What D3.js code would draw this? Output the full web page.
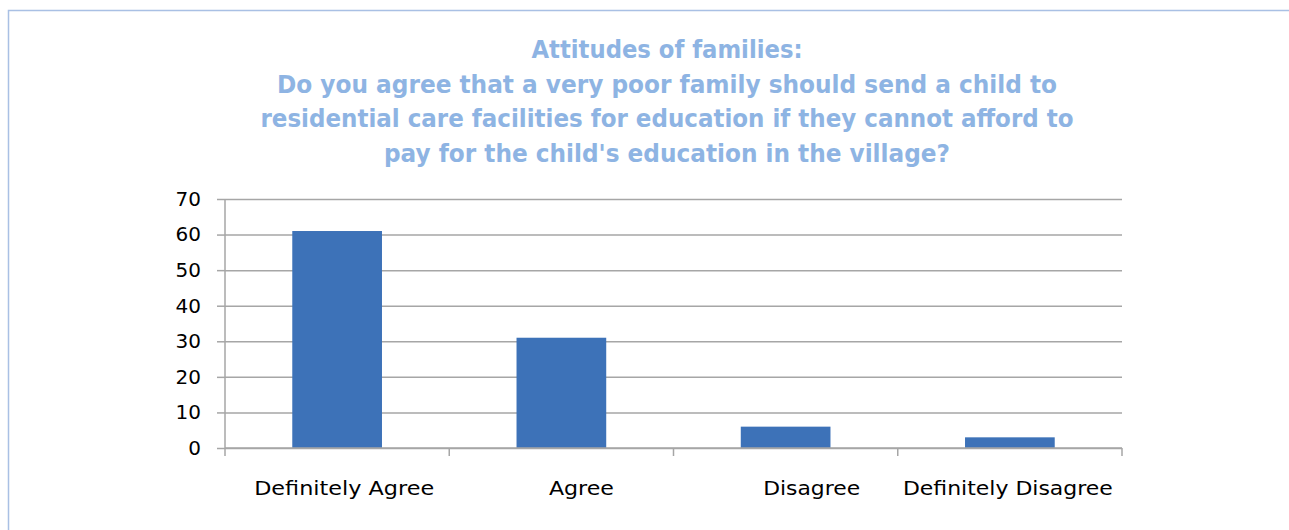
<!DOCTYPE html>
<html><head><meta charset="utf-8">
<script src="https://cdn.jsdelivr.net/npm/d3@7"></script>
<style>body{margin:0;background:#fff}svg{display:block}</style>
</head><body>
<svg id="c" width="1289" height="530"></svg>
<script>
const categories = ["Definitely Agree", "Agree", "Disagree", "Definitely Disagree"];
const values = [61, 31, 6, 3];
const yTicks = [0, 10, 20, 30, 40, 50, 60, 70];
const titleLines = [
  "Attitudes of families:",
  "Do you agree that a very poor family should send a child to",
  "residential care facilities for education if they cannot afford to",
  "pay for the child's education in the village?"
];

// layout
const W = 1289, H = 530;
const m = {left: 225, right: 1122, top: 199, bottom: 448};
const titleWidths = [271, 780, 813, 566];
const labelDx = [7, 20, 26, -2];
const labelWidths = [180, 65, 97, 210];

const svg = d3.select("#c");
svg.append("rect").attr("width", W).attr("height", H).attr("fill", "#fff");
// frame
svg.append("path").attr("d", `M8.5,${H} V10.5 H${W}`).attr("fill", "none")
  .attr("stroke", "#a9c0e4").attr("stroke-width", 1.5);

const x = d3.scaleBand().domain(categories).range([m.left, m.right]).paddingInner(0.6).paddingOuter(0.3);
const xb = d3.scaleBand().domain(categories).range([m.left, m.right]);
const y = d3.scaleLinear().domain([0, 70]).range([m.bottom, m.top]);

// title
svg.append("g").selectAll("text").data(titleLines).join("text")
  .attr("x", 667).attr("y", (d, i) => 58 + i * 34.7)
  .attr("text-anchor", "middle")
  .attr("font-family", "DejaVu Sans, sans-serif").attr("font-weight", "bold")
  .attr("font-size", 24).attr("fill", "#8eb4e3")
  .attr("textLength", (d, i) => titleWidths[i]).attr("lengthAdjust", "spacingAndGlyphs")
  .text(d => d);

// gridlines
const grid = d3.axisLeft(y).tickValues(yTicks).tickSize(-(m.right - m.left)).tickFormat("");
svg.append("g").attr("transform", `translate(${m.left},0)`).call(grid)
  .call(g => g.select(".domain").remove())
  .selectAll("line").attr("stroke", "#a6a6a6").attr("stroke-width", 1.5);

// bars
svg.append("g").selectAll("rect").data(values).join("rect")
  .attr("x", (d, i) => x(categories[i]))
  .attr("width", x.bandwidth())
  .attr("y", d => y(d))
  .attr("height", d => y(0) - y(d))
  .attr("fill", "#3d72b8");

// y axis
const ya = svg.append("g").attr("transform", `translate(${m.left},0)`)
  .call(d3.axisLeft(y).tickValues(yTicks).tickSize(8).tickPadding(16));
ya.select(".domain").attr("stroke", "#a6a6a6").attr("stroke-width", 1.5).attr("d", `M0,${m.top}V${m.bottom}`);
ya.selectAll(".tick line").attr("stroke", "#a6a6a6").attr("stroke-width", 1.5);
ya.selectAll("text").attr("font-family", "DejaVu Sans, sans-serif").attr("font-size", 20).attr("fill", "#000");

// x axis
const xa = svg.append("g").attr("transform", `translate(0,${m.bottom})`);
xa.append("line").attr("x1", m.left).attr("x2", m.right).attr("stroke", "#a6a6a6").attr("stroke-width", 1.5);
xa.selectAll(".tk").data(categories.concat(["end"])).join("line").attr("class", "tk")
  .attr("x1", (d, i) => m.left + i * xb.bandwidth()).attr("x2", (d, i) => m.left + i * xb.bandwidth())
  .attr("y1", 0).attr("y2", 8).attr("stroke", "#a6a6a6").attr("stroke-width", 1.5);
xa.selectAll("text").data(categories).join("text")
  .attr("x", (d, i) => xb(d) + xb.bandwidth() / 2 + labelDx[i]).attr("y", 47)
  .attr("text-anchor", "middle")
  .attr("font-family", "DejaVu Sans, sans-serif").attr("font-size", 20).attr("fill", "#000")
  .attr("textLength", (d, i) => labelWidths[i]).attr("lengthAdjust", "spacingAndGlyphs")
  .text(d => d);
</script>
</body></html>
